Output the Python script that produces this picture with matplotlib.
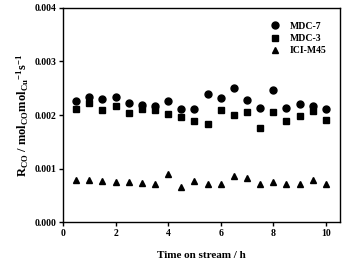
import matplotlib.pyplot as plt

time_h = [0.5, 1, 1.5, 2, 2.5, 3, 3.5, 4, 4.5, 5, 5.5, 6, 6.5, 7, 7.5, 8, 8.5, 9, 9.5, 10]
mdc7 = [0.00226, 0.00233, 0.00230, 0.00234, 0.00222, 0.00219, 0.00216, 0.00227, 0.00211, 0.00211,
        0.00240, 0.00231, 0.00250, 0.00228, 0.00214, 0.00246, 0.00214, 0.00221, 0.00216, 0.00212]
mdc3 = [0.00212, 0.00222, 0.00209, 0.00217, 0.00203, 0.00212, 0.00209, 0.00201, 0.00196, 0.00188,
        0.00184, 0.00210, 0.00200, 0.00206, 0.00176, 0.00206, 0.00188, 0.00199, 0.00208, 0.00191]
icim45 = [0.00078, 0.00078, 0.00077, 0.00075, 0.00075, 0.00073, 0.00072, 0.00089, 0.00066, 0.00077,
          0.00072, 0.00072, 0.00086, 0.00083, 0.00072, 0.00075, 0.00072, 0.00072, 0.00078, 0.00071]

plt.rcParams['font.family'] = ['Liberation Serif', 'DejaVu Serif']
plt.rcParams['font.weight'] = 'bold'
plt.rcParams['mathtext.fontset'] = 'custom'
plt.rcParams['mathtext.rm'] = 'Liberation Serif:bold'
plt.rcParams['mathtext.it'] = 'Liberation Serif:bold'
plt.rcParams['mathtext.bf'] = 'Liberation Serif:bold'

fig = plt.figure(figsize=(3.44, 2.65), dpi=100)
ax = fig.add_axes([0.183, 0.162, 0.805, 0.808])

ax.plot(time_h, mdc7, 'o', color='black', ms=5, label='MDC-7')
ax.plot(time_h, mdc3, 's', color='black', ms=4.5, label='MDC-3')
ax.plot(time_h, icim45, '^', color='black', ms=5, label='ICI-M45')

ax.set_xlim(0, 10.53)
ax.set_ylim(0, 0.004)
ax.set_xticks([0, 2, 4, 6, 8, 10])
ax.set_yticks([0, 0.001, 0.002, 0.003, 0.004])
ax.set_yticklabels(['0.000', '0.001', '0.002', '0.003', '0.004'])
ax.tick_params(direction='out', length=3, width=1, labelsize=7, pad=2)
for s in ax.spines.values():
    s.set_linewidth(1)

ax.set_xlabel('Time on stream / h', fontsize=8, fontweight='bold', labelpad=9)
ax.set_ylabel(r'R$_{\mathrm{CO}}$ / mol$_{\mathrm{CO}}$mol$_{\mathrm{Cu}}$$^{-1}$s$^{-1}$',
              fontsize=9, fontweight='bold', labelpad=2)

ax.legend(loc='upper right', frameon=False, fontsize=7, handletextpad=0.9,
          labelspacing=0.35, borderaxespad=1.0, handlelength=1.2)

fig.savefig('out.png', dpi=100)
